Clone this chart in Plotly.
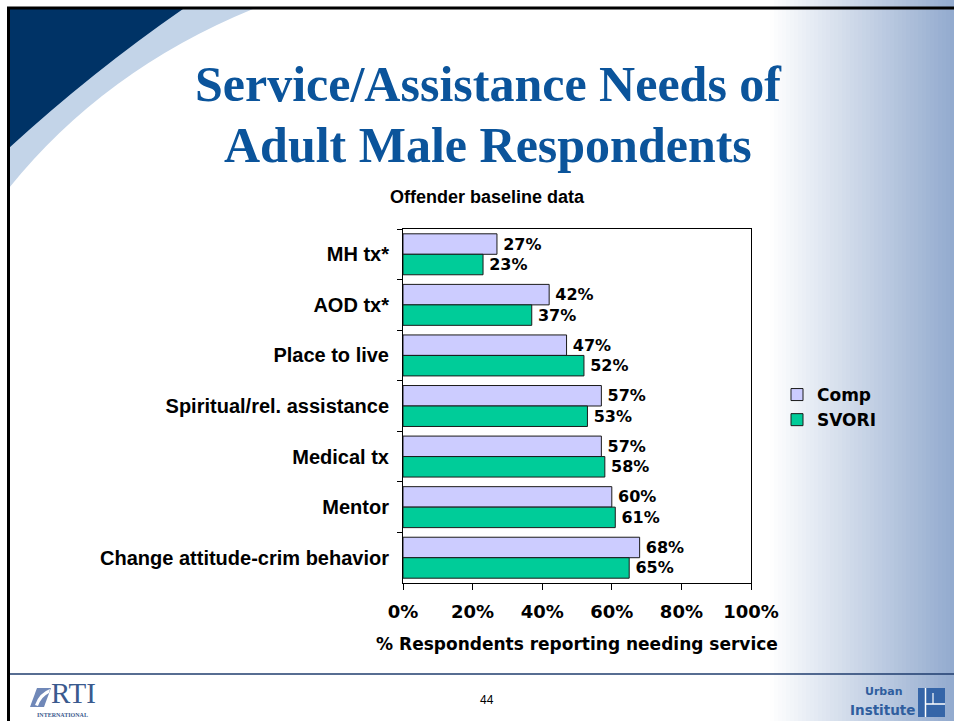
import plotly.graph_objects as go

# ---------------- data ----------------
categories = ["MH tx*", "AOD tx*", "Place to live", "Spiritual/rel. assistance",
              "Medical tx", "Mentor", "Change attitude-crim behavior"]
comp = [27, 42, 47, 57, 57, 60, 68]
svori = [23, 37, 52, 53, 58, 61, 65]
x_tick_vals = [0, 20, 40, 60, 80, 100]
x_tick_text = ["0%", "20%", "40%", "60%", "80%", "100%"]

title_line1 = "Service/Assistance Needs of"
title_line2 = "Adult Male Respondents"
subtitle = "Offender baseline data"
x_title = "% Respondents reporting needing service"
page_no = "44"

# ---------------- layout geometry ----------------
W, H = 954, 721
ML, MR, MT, MB = 403, 203, 229, 138
PW = W - ML - MR
PH = H - MT - MB


def px(x):
    return (x - ML) / PW


def py(y):
    return (H - MB - y) / PH


VERDANA = "DejaVu Sans"
ARIAL = "Liberation Sans"
TIMES = "Liberation Serif"
THIN = "\u2009"

fig = go.Figure()
fig.add_trace(go.Bar(
    y=categories, x=comp, orientation="h", name="Comp",
    marker=dict(color="#CCCCFF", line=dict(color="#1a1a1a", width=1)),
    text=[f"{THIN}{v}%" for v in comp], textposition="outside",
    textfont=dict(family=VERDANA, size=16, color="black", weight="bold"),
    constraintext="none", cliponaxis=False, legendgroup="a",
))
fig.add_trace(go.Bar(
    y=categories, x=svori, orientation="h", name="SVORI",
    marker=dict(color="#00CC99", line=dict(color="#1a1a1a", width=1)),
    text=[f"{THIN}{v}%" for v in svori], textposition="outside",
    textfont=dict(family=VERDANA, size=16, color="black", weight="bold"),
    constraintext="none", cliponaxis=False, legendgroup="b",
))

shapes = []
# right-side gradient
n = 46
x0, x1 = 770, 954
c0 = (255, 255, 255)
c1 = (146, 170, 206)
for i in range(n):
    t = (i + 0.5) / n
    col = tuple(int(round(c0[k] + (c1[k] - c0[k]) * t)) for k in range(3))
    xa = x0 + (x1 - x0) * i / n
    xb = x0 + (x1 - x0) * (i + 1) / n + 0.6
    shapes.append(dict(type="rect", xref="paper", yref="paper",
                       x0=px(xa), x1=px(xb), y0=py(H), y1=py(0),
                       fillcolor="rgb(%d,%d,%d)" % col, line=dict(width=0),
                       layer="below"))


def path(cmds):
    s = ""
    for cmd, pts in cmds:
        s += cmd + " ".join("%.5f,%.5f" % (px(a), py(b)) for a, b in pts) + " "
    return s + "Z"


# swoosh at top-left
shapes.append(dict(type="path", xref="paper", yref="paper", layer="below",
                   path=path([("M", [(9, 9)]), ("L", [(253, 9)]),
                              ("Q", [(104, 70), (9, 188)])]),
                   fillcolor="#C3D4E8", line=dict(width=0)))
shapes.append(dict(type="path", xref="paper", yref="paper", layer="below",
                   path=path([("M", [(9, 9)]), ("L", [(183, 9)]),
                              ("Q", [(92, 72), (9, 148)])]),
                   fillcolor="#003366", line=dict(width=0)))
# slide borders
shapes.append(dict(type="line", xref="paper", yref="paper", layer="above",
                   x0=px(7), x1=px(954), y0=py(8), y1=py(8),
                   line=dict(color="black", width=3)))
shapes.append(dict(type="line", xref="paper", yref="paper", layer="above",
                   x0=px(8.5), x1=px(8.5), y0=py(7), y1=py(721),
                   line=dict(color="black", width=3)))
# footer separator
shapes.append(dict(type="line", xref="paper", yref="paper", layer="above",
                   x0=px(10), x1=px(954), y0=py(674), y1=py(674),
                   line=dict(color="#1F3D6E", width=1.5)))
# RTI logo mark
shapes.append(dict(type="path", xref="paper", yref="paper", layer="above",
                   path=path([("M", [(37, 688)]), ("L", [(51, 688)]), ("L", [(44, 707)]),
                              ("L", [(30, 707)])]),
                   fillcolor="#7088B8", line=dict(width=0)))
shapes.append(dict(type="path", xref="paper", yref="paper", layer="above",
                   path=path([("M", [(35, 705)]), ("Q", [(39, 693), (50, 689)]),
                              ("L", [(49, 693)]), ("Q", [(41, 697), (38, 706)])]),
                   fillcolor="white", line=dict(width=0)))
# Urban Institute logo block
shapes.append(dict(type="rect", xref="paper", yref="paper", layer="above",
                   x0=px(918), x1=px(945), y0=py(717), y1=py(688),
                   fillcolor="#3565A8", line=dict(width=0)))
shapes.append(dict(type="line", xref="paper", yref="paper", layer="above",
                   x0=px(925.5), x1=px(925.5), y0=py(717), y1=py(688),
                   line=dict(color="white", width=1.5)))
shapes.append(dict(type="line", xref="paper", yref="paper", layer="above",
                   x0=px(925.5), x1=px(945), y0=py(704), y1=py(704),
                   line=dict(color="white", width=1.5)))
shapes.append(dict(type="line", xref="paper", yref="paper", layer="above",
                   x0=px(933), x1=px(933), y0=py(704), y1=py(693),
                   line=dict(color="white", width=1.2)))


def ann(text, x, y, font, xanchor="center", yanchor="middle"):
    return dict(text=text, x=px(x), y=py(y), xref="paper", yref="paper",
                showarrow=False, xanchor=xanchor, yanchor=yanchor, font=font)


annotations = [
    ann("<b>%s</b>" % title_line1, 488, 84, dict(family=TIMES, size=50, color="#0B549B")),
    ann("<b>%s</b>" % title_line2, 488, 145, dict(family=TIMES, size=50, color="#0B549B")),
    ann("<b>%s</b>" % subtitle, 487, 197, dict(family=ARIAL, size=18, color="black")),
    ann(page_no, 487, 700, dict(family=ARIAL, size=12, color="black")),
    ann("RTI", 49, 711, dict(family=TIMES, size=29, color="#3A5A8E"),
        xanchor="left", yanchor="bottom"),
    ann("<b>INTERNATIONAL</b>", 62, 715, dict(family=TIMES, size=6, color="#3A5A8E")),
    ann("<b>Urban</b>", 905, 700, dict(family=VERDANA, size=11, color="#2F5E9E"),
        xanchor="right", yanchor="bottom"),
    ann("<b>Institute</b>", 917, 700, dict(family=VERDANA, size=13.5, color="#2F5E9E"),
        xanchor="right", yanchor="top"),
]

fig.update_layout(
    width=W, height=H, autosize=False,
    margin=dict(l=ML, r=MR, t=MT, b=MB, pad=0),
    paper_bgcolor="white", plot_bgcolor="white",
    barmode="group", bargap=0.19, bargroupgap=0,
    showlegend=True,
    legend=dict(x=px(777), y=py(377), xanchor="left", yanchor="top",
                bgcolor="rgba(0,0,0,0)", traceorder="grouped", tracegroupgap=0,
                font=dict(family=VERDANA, size=17, color="black", weight="bold")),
    shapes=shapes, annotations=annotations,
    font=dict(family=ARIAL, color="black"),
)
fig.update_yaxes(type="category", autorange="reversed", tickson="boundaries",
                 ticks="outside", ticklen=5, tickcolor="black", ticklabelstandoff=9,
                 showline=True, linecolor="black", linewidth=1, mirror=True,
                 showgrid=False, zeroline=False,
                 tickfont=dict(family=ARIAL, size=20, color="black", weight="bold"))
fig.update_xaxes(range=[0, 100], tickvals=x_tick_vals, ticktext=x_tick_text,
                 ticks="outside", ticklen=6, tickcolor="black", ticklabelstandoff=6,
                 showline=True, linecolor="black", linewidth=1, mirror=True,
                 showgrid=False, zeroline=False,
                 tickfont=dict(family=VERDANA, size=18, color="black", weight="bold"),
                 title=dict(text=x_title, standoff=17,
                            font=dict(family=VERDANA, size=17, color="black", weight="bold")))

fig.write_html("out.html")
